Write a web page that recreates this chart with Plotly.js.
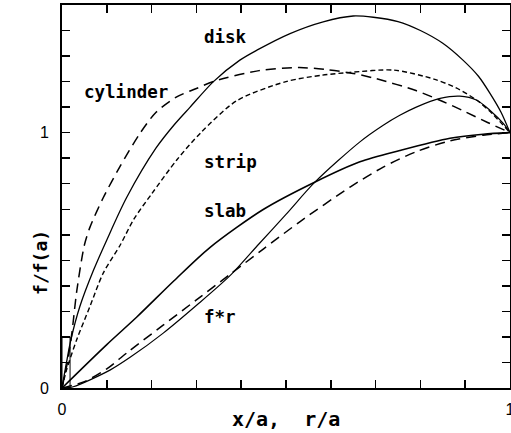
<!DOCTYPE html>
<html>
<head>
<meta charset="utf-8">
<script src="https://cdn.plot.ly/plotly-3.0.1.min.js"></script>
<style>html,body{margin:0;padding:0;background:#fff;}#chart{width:511px;height:433px;}</style>
</head>
<body>
<div id="chart"></div>
<script>
// Curves (x/a or r/a, f/f(a))
var diskX = [0, 0.01, 0.02, 0.04, 0.07, 0.1, 0.144, 0.21, 0.25, 0.286, 0.338, 0.397, 0.435, 0.509, 0.583, 0.65, 0.695, 0.75, 0.8, 0.85, 0.895, 0.93, 0.955, 0.98, 1.0];
var diskY = [0, 0.1, 0.19, 0.32, 0.46, 0.58, 0.745, 0.94, 1.03, 1.1, 1.2, 1.284, 1.323, 1.388, 1.434, 1.457, 1.452, 1.435, 1.40, 1.35, 1.284, 1.22, 1.155, 1.08, 1.0];

var cylX = [0, 0.006, 0.012, 0.022, 0.033, 0.05, 0.0625, 0.092, 0.129, 0.174, 0.21, 0.256, 0.3, 0.342, 0.44, 0.53, 0.59, 0.65, 0.7, 0.79, 0.85, 0.9, 0.95, 1.0];
var cylY = [0, 0.05, 0.1, 0.215, 0.38, 0.56, 0.63, 0.745, 0.866, 0.997, 1.08, 1.14, 1.173, 1.203, 1.243, 1.255, 1.247, 1.232, 1.212, 1.165, 1.122, 1.082, 1.04, 1.0];

var stripX = [0, 0.01, 0.033, 0.0625, 0.092, 0.13, 0.16, 0.2, 0.257, 0.31, 0.39, 0.5, 0.58, 0.643, 0.74, 0.83, 0.88, 0.926, 0.96, 1.0];
var stripY = [0, 0.07, 0.19, 0.32, 0.45, 0.56, 0.66, 0.76, 0.895, 1.0, 1.125, 1.2, 1.225, 1.236, 1.245, 1.21, 1.175, 1.127, 1.075, 1.0];

var slabX = [0, 0.1, 0.167, 0.25, 0.33, 0.45, 0.565, 0.665, 0.754, 0.866, 0.94, 1.0];
var slabY = [0, 0.17, 0.278, 0.42, 0.55, 0.70, 0.807, 0.886, 0.93, 0.978, 0.994, 1.0];

var lowDashX = [0, 0.05, 0.1, 0.15, 0.225, 0.3, 0.375, 0.45, 0.53, 0.643, 0.717, 0.79, 0.866, 0.94, 1.0];
var lowDashY = [0, 0.025, 0.075, 0.145, 0.245, 0.345, 0.445, 0.545, 0.65, 0.787, 0.865, 0.925, 0.968, 0.99, 1.0];

var frX = [0, 0.025, 0.107, 0.152, 0.226, 0.301, 0.375, 0.44, 0.5, 0.565, 0.665, 0.717, 0.754, 0.792, 0.844, 0.888, 0.926, 0.955, 0.985, 1.0];
var frY = [0, 0.005, 0.07, 0.12, 0.215, 0.325, 0.44, 0.565, 0.68, 0.807, 0.964, 1.029, 1.068, 1.101, 1.134, 1.143, 1.127, 1.088, 1.036, 1.0];

var xTickVals = [0, 0.1, 0.2, 0.3, 0.4, 0.5, 0.6, 0.7, 0.8, 0.9, 1.0];
var xTickText = ['0', '', '', '', '', '', '', '', '', '', '1'];
var yTickVals = [0, 0.1, 0.2, 0.3, 0.4, 0.5, 0.6, 0.7, 0.8, 0.9, 1.0, 1.1, 1.2, 1.3, 1.4, 1.5];
var yTickText = ['0', '', '', '', '', '', '', '', '', '', '1', '', '', '', '', ''];

var curveLabels = ['disk', 'cylinder', 'strip', 'slab', 'f*r'];
var labelX = [0.3125, 0.045, 0.3125, 0.3125, 0.3125];
var labelY = [1.374, 1.159, 0.885, 0.693, 0.278];

function tr(x, y, w, dash) {
  return {x: x, y: y, type: 'scatter', mode: 'lines',
    line: {color: '#000', width: w, dash: dash, shape: 'spline', smoothing: 0.8},
    hoverinfo: 'skip', showlegend: false};
}

var data = [
  tr(diskX, diskY, 1.3, 'solid'),
  tr(cylX, cylY, 1.5, '10px,6px'),
  tr(stripX, stripY, 1.4, '5px,3px'),
  tr(slabX, slabY, 1.6, 'solid'),
  tr(lowDashX, lowDashY, 1.5, '10px,6px'),
  tr(frX, frY, 1.2, 'solid')
];

var labelFont = {family: 'DejaVu Sans Mono', size: 17.5, color: '#000', weight: 'bold'};
var annotations = curveLabels.map(function (t, i) {
  return {x: labelX[i], y: labelY[i], xref: 'x', yref: 'y', text: t, showarrow: false,
    xanchor: 'left', yanchor: 'middle', font: labelFont};
});
annotations.push({x: -0.047, y: 0.329, xref: 'paper', yref: 'paper', text: 'f/f(a)', showarrow: false,
  textangle: -90, xanchor: 'center', yanchor: 'middle',
  font: {family: 'DejaVu Sans Mono', size: 18, color: '#000', weight: 'bold'}});
annotations.push({x: 0.5, y: -0.081, xref: 'paper', yref: 'paper', text: 'x/a,\u00a0\u00a0r/a', showarrow: false,
  xanchor: 'center', yanchor: 'middle',
  font: {family: 'DejaVu Sans Mono', size: 20, color: '#000', weight: 'bold'}});

var axisCommon = {
  showgrid: false, zeroline: false, showline: true, linecolor: '#000', linewidth: 2,
  mirror: 'ticks', ticks: 'inside', ticklen: 8, tickwidth: 1.5, tickcolor: '#000',
  tickmode: 'array', tickfont: {family: 'Liberation Sans', size: 16, color: '#000'},
  ticklabeloverflow: 'allow', fixedrange: true
};

var layout = {
  width: 511, height: 433,
  margin: {l: 62, r: 1, t: 5, b: 45},
  paper_bgcolor: '#fff', plot_bgcolor: '#fff',
  xaxis: Object.assign({}, axisCommon, {range: [0, 1], tickvals: xTickVals, ticktext: xTickText, ticklabelstandoff: 6}),
  yaxis: Object.assign({}, axisCommon, {range: [0, 1.5], tickvals: yTickVals, ticktext: yTickText, ticklabelstandoff: 8}),
  annotations: annotations,
  shapes: [{type: 'rect', xref: 'x', yref: 'y', x0: 0, x1: 0.018, y0: 0, y1: 0.2,
    line: {color: '#000', width: 1}}],
  showlegend: false
};

Plotly.newPlot('chart', data, layout, {staticPlot: true, displayModeBar: false});
</script>
</body>
</html>
